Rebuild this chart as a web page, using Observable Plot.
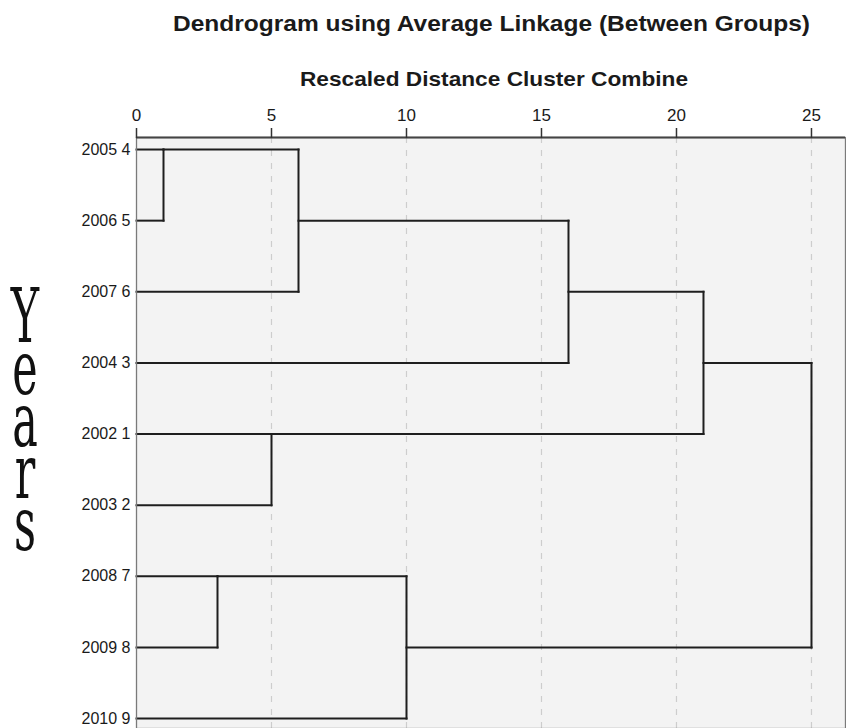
<!DOCTYPE html>
<html>
<head>
<meta charset="utf-8">
<script src="https://cdn.jsdelivr.net/npm/d3@7"></script>
<script src="https://cdn.jsdelivr.net/npm/@observablehq/plot@0.6"></script>
<style>
  html, body { margin: 0; padding: 0; background: #fff; }
  #wrap { position: relative; width: 846px; height: 728px; overflow: hidden; }
  #wrap svg { position: absolute; left: 0; top: 0; }
  #ytitle {
    position: absolute; left: 0; top: 273px; width: 50px;
    writing-mode: vertical-rl; text-orientation: upright;
    font-family: 'DejaVu Serif', serif; font-size: 74px; line-height: 50px;
    letter-spacing: -34px; color: #111;
    transform: scaleX(0.58); transform-origin: 25px 0;
  }
</style>
</head>
<body>
<div id="wrap"></div>
<script>
// Leaf labels in display order (top to bottom)
const labels = ["2005 4", "2006 5", "2007 6", "2004 3", "2002 1", "2003 2", "2008 7", "2009 8", "2010 9"];
// Agglomeration steps: node ids 0..8 are leaves, each merge creates node 9, 10, ...
const mergeLeft   = [0, 6, 4, 9, 10, 12, 14, 15];
const mergeRight  = [1, 7, 5, 2,  8,  3, 11, 13];
const mergeHeight = [1, 3, 5, 6, 10, 16, 21, 25];
const xTicks = [0, 5, 10, 15, 20, 25];

const titleText = "Dendrogram using Average Linkage (Between Groups)";
const subtitleText = "Rescaled Distance Cluster Combine";
const yTitle = "Years";

// Build dendrogram segments (SPSS style: node row = floor of mean of child rows)
const nodeRow = labels.map((_, i) => i);
const nodeDist = labels.map(() => 0);
const segs = [];
mergeLeft.forEach((a, k) => {
  const b = mergeRight[k], h = mergeHeight[k];
  const ra = nodeRow[a], rb = nodeRow[b];
  segs.push({x1: nodeDist[a], y1: ra, x2: h, y2: ra});
  segs.push({x1: nodeDist[b], y1: rb, x2: h, y2: rb});
  segs.push({x1: h, y1: ra, x2: h, y2: rb});
  nodeRow.push(Math.floor((ra + rb) / 2));
  nodeDist.push(h);
});

const chart = Plot.plot({
  width: 846,
  height: 728,
  marginTop: 137,
  marginLeft: 136,
  marginRight: 1,
  marginBottom: 0,
  style: {fontFamily: "'Liberation Sans', Arial, sans-serif", background: "transparent", color: "#1a1a1a"},
  x: {domain: [0, 26.26]},
  y: {domain: [-0.169, 8.14], reverse: true},
  marks: [
    Plot.frame({fill: "#f3f3f3", stroke: null}),
    Plot.gridX(xTicks.filter(d => d > 0), {stroke: "#cdcdcd", strokeOpacity: 1, strokeDasharray: "6,7", strokeWidth: 1.2}),
    Plot.link(segs, {x1: "x1", y1: "y1", x2: "x2", y2: "y2", stroke: "#1e1e1e", strokeWidth: 2, strokeLinecap: "square"}),
    Plot.frame({stroke: "#7a7a7a", strokeWidth: 1.3}),
    Plot.ruleY([-0.169], {stroke: "#444", strokeWidth: 2}),
    Plot.axisX({anchor: "top", ticks: xTicks, tickSize: 10, tickPadding: 7, fontSize: 17, label: null, stroke: "#333", strokeWidth: 1.5}),
    Plot.axisY({ticks: labels.map((_, i) => i), tickFormat: i => labels[i], tickSize: 0, tickPadding: 6, fontSize: 16, label: null})
  ]
});
document.getElementById("wrap").appendChild(chart);

// Overlay: title and subtitle
const ov = d3.select("#wrap").append("svg")
  .attr("width", 846).attr("height", 728)
  .style("pointer-events", "none");
ov.append("text")
  .attr("x", 491.5).attr("y", 31)
  .attr("text-anchor", "middle")
  .attr("font-family", "'Liberation Sans', Arial, sans-serif")
  .attr("font-weight", "bold").attr("font-size", 22.5).attr("fill", "#1a1a1a")
  .attr("textLength", 637).attr("lengthAdjust", "spacingAndGlyphs")
  .text(titleText);
ov.append("text")
  .attr("x", 494).attr("y", 86)
  .attr("text-anchor", "middle")
  .attr("font-family", "'Liberation Sans', Arial, sans-serif")
  .attr("font-weight", "bold").attr("font-size", 21).attr("fill", "#1a1a1a")
  .attr("textLength", 388).attr("lengthAdjust", "spacingAndGlyphs")
  .text(subtitleText);

// Stacked upright "Years" label as a single vertical text run
const yl = document.createElement("div");
yl.id = "ytitle";
yl.textContent = yTitle;
document.getElementById("wrap").appendChild(yl);
</script>
</body>
</html>
